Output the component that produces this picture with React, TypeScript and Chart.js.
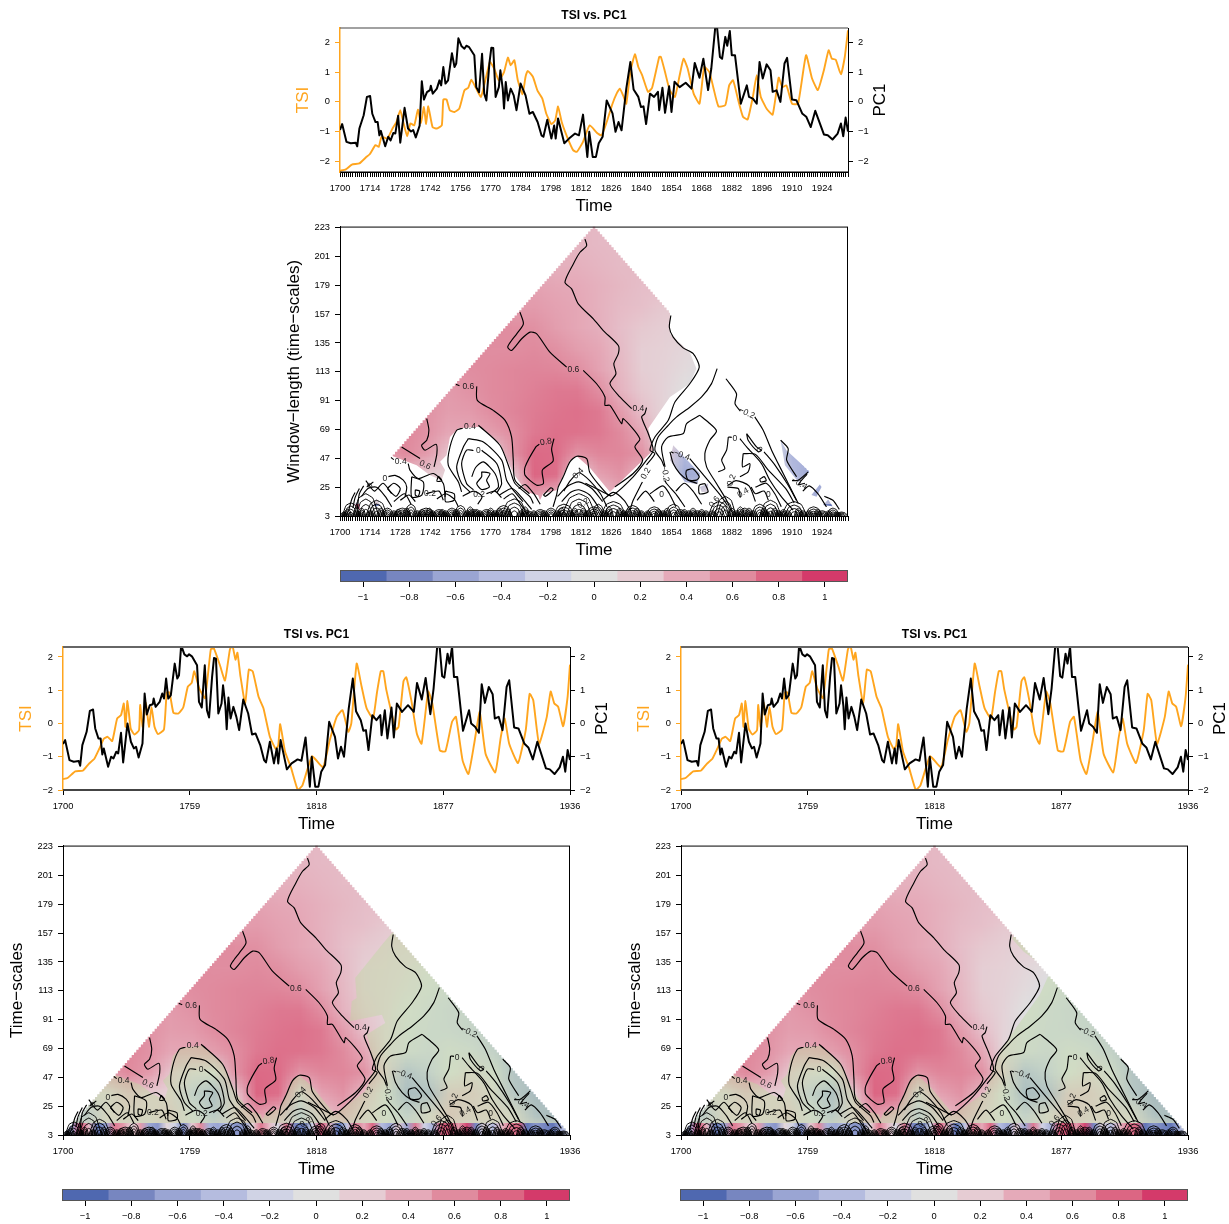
import React, { useEffect, useRef } from "react";
import { Chart, registerables } from "chart.js";

Chart.register(...registerables);
Chart.defaults.font.family = "'Liberation Sans', Arial, sans-serif";

const N = null;

// ---------- time series (year, value pairs) ----------
const PC1_TOP = [1700,-.95,1701,-.75,1703,-1.35,1705,-1.4,1707.3,-1.38,1708,-1.5,1709,-.9,1711,-.45,1712.5,.17,1714,.2,1715,-.4,1716.5,-.68,1717.5,-.68,1718.3,-1.13,1719,-.98,1721,-1.5,1722.4,-1.18,1723.5,-1.3,1724.8,-1.05,1725.7,-1.07,1727,-.47,1728,-1.38,1730,-.2,1731.6,-.9,1733,-1,1734,-.95,1735.2,-1.2,1737,-.8,1738,.7,1739,.08,1740.4,.33,1741.8,.4,1742.2,.55,1743.1,.28,1745,.45,1746.2,.73,1747,.56,1748,1.18,1749,.62,1750.2,.73,1752,1.65,1753.2,1.18,1754,1.3,1755,2.15,1756.5,1.88,1757.8,1.8,1758.7,1.9,1760,1.85,1762.4,1.58,1763.3,.5,1764.6,.33,1766,1.63,1767,.28,1768,.05,1769.4,1.3,1770.3,1.83,1771.2,1.82,1772.3,.17,1773.8,.5,1774.5,1.07,1775.6,.45,1776.2,-.22,1777,.67,1778,.05,1779.3,.45,1780.7,.22,1782,-.28,1783.9,.62,1786.2,.22,1788,-.4,1789.6,-.34,1791.8,-.68,1793.6,-1.13,1794.5,-1.18,1796.3,-.6,1798.2,-1.24,1799.5,-.8,1800.2,-1.24,1801.3,-.56,1804.2,-1.4,1806.4,-1.24,1809.2,-1.07,1811,-1.13,1812.9,-.43,1814.9,-1.86,1815.8,-1.01,1817.4,-1.86,1818.9,-1.86,1820.2,-1.4,1822,-1.18,1823.9,.05,1826.6,-.39,1828,-1.01,1829.4,-.68,1830.8,-.96,1833,.45,1834.9,1.35,1836.4,.42,1838.6,.17,1839.8,-.17,1841,-.15,1842.2,-.75,1844,.28,1845.9,.17,1847.7,.34,1848.3,-.28,1849.8,.48,1851,-.37,1852.9,.53,1854,-.34,1855.4,.68,1857.8,.5,1860.6,.65,1863.3,.45,1864.8,1.32,1867,.82,1868.8,1.46,1871,.4,1872.5,1.13,1874.3,2.5,1875.2,2.5,1876.5,1.52,1877.5,1.46,1879,2.2,1879.9,1.9,1881.1,2.4,1882,1.58,1883.5,1.58,1886.2,-.06,1889,.56,1890,.17,1891.8,.11,1893.6,-.06,1894.9,1.35,1896.4,.79,1898.2,1.27,1900,1.07,1901,.34,1902.8,.39,1904.6,0,1906.5,1.3,1907.7,1.49,1910,.08,1912,.06,1914.7,-.39,1916.6,-.5,1918.7,-.85,1920.8,-.3,1924.8,-1.1,1926.6,-1.13,1928.8,-1.27,1931.2,-1.07,1932.7,-.73,1933.8,-1.16,1934.9,-.53,1936,-1];
const TSI_TOP = [1700,-2.33,1702.7,-2.28,1705.5,-2.12,1709,-2.08,1712,-1.88,1713.8,-1.77,1716.5,-1.46,1718,-1.52,1719.3,-1.18,1722,-1.24,1724.4,-.9,1726.2,-.68,1728,-.28,1729.4,-.68,1731.2,-1.16,1732.7,-.73,1734.5,-.79,1736.2,-.26,1737.6,-.71,1739,-.17,1740,-.75,1741,-.15,1743,-.85,1745,-.9,1747.3,-.79,1748,.08,1749.5,.08,1751,-.28,1753.2,-.34,1755.4,-.23,1757.8,.39,1759.6,.48,1761,.75,1763.3,.45,1765.5,.17,1767.9,.85,1769.7,1.35,1771.6,1.13,1773.8,.73,1776.2,1.01,1778,1.5,1779.3,1.24,1781,1.41,1782.6,.73,1784.8,.26,1786.2,.85,1787.2,1.05,1789.6,.85,1791.8,.37,1794,.11,1795.8,-.39,1798.2,-.75,1800,-.62,1801.3,-.15,1803,-.68,1805.5,-1.18,1808.3,-1.63,1810,-1.69,1812.9,-1.35,1816,-.79,1819.3,-1.04,1821.5,-1.13,1823.9,-.68,1826.6,-.06,1828.5,.28,1830,.45,1831.8,.17,1833,-.06,1834.9,1.01,1837,1.61,1838.6,1.18,1840.4,.9,1843.1,.34,1845,.48,1848.3,1.52,1849.1,1.52,1851,1.01,1853.2,.39,1855.6,.17,1857.8,.9,1859.6,1.46,1861.5,1.13,1864.3,.28,1867,-.06,1869.2,1.18,1871.6,1.01,1873.4,.5,1875.8,-.15,1879,-.11,1880.8,.56,1882.6,.73,1885,.06,1887.2,-.5,1889.4,-.59,1891.8,.17,1893.6,.9,1895.5,.17,1898.2,-.23,1901,-.43,1903.8,.82,1905.5,.5,1907.4,.56,1910,-.06,1912.8,-.06,1916.5,1.58,1919.3,.79,1922,.4,1924.8,1.07,1927,1.75,1928.5,1.46,1930.3,1.43,1932.7,.93,1934.5,1.52,1936,2.42];
const PC1_LOW = [1700,-.62,1701,-.5,1703,-1.1,1705,-1.15,1707.3,-1.13,1708,-1.27,1709,-.65,1711,-.25,1712.5,.38,1714,.42,1715,-.15,1716.5,-.45,1717.5,-.45,1718.3,-.93,1719,-.75,1721,-1.3,1722.4,-1,1723.5,-1.05,1724.8,-.85,1725.7,-.9,1727,-.28,1728,-1.17,1730,0,1731.6,-.55,1733,-.75,1734,-.7,1735.2,-1.02,1737,-.6,1738,.9,1739,.27,1740.4,.55,1741.8,.58,1742.2,.75,1743.1,.5,1745,.65,1746.2,.9,1747,.75,1748,1.35,1749,.75,1750.2,.85,1752,1.8,1753.2,1.35,1754,1.45,1755,2.35,1756.5,2.08,1757.8,2.02,1758.7,2.08,1760,2.02,1762.4,1.75,1763.3,.65,1764.6,.48,1766,1.75,1767,.4,1768,.18,1769.4,1.4,1770.3,1.97,1771.2,1.95,1772.3,.3,1773.8,.6,1774.5,1.15,1775.6,.52,1776.2,-.17,1777,.78,1778,.15,1779.3,.5,1780.7,.2,1782,-.2,1783.9,.72,1786.2,.3,1788,-.33,1789.6,-.3,1791.8,-.65,1793.6,-1.1,1794.5,-1.17,1796.3,-.55,1798.2,-1.2,1799.5,-.75,1800.2,-1.2,1801.3,-.5,1804.2,-1.38,1806.4,-1.2,1809.2,-1.08,1811,-1.12,1812.9,-.42,1814.9,-1.9,1815.8,-1,1817.4,-1.9,1818.9,-1.9,1820.2,-1.45,1822,-1.25,1823.9,.05,1826.6,-.4,1828,-1.05,1829.4,-.7,1830.8,-1,1833,.45,1834.9,1.35,1836.4,.37,1838.6,.1,1839.8,-.22,1841,-.2,1842.2,-.8,1844,.25,1845.9,.1,1847.7,.25,1848.3,-.35,1849.8,.4,1851,-.45,1852.9,.48,1854,-.42,1855.4,.6,1857.8,.35,1860.6,.55,1863.3,.35,1864.8,1.22,1867,.72,1868.8,1.37,1871,.28,1872.5,1.05,1874.3,2.4,1875.2,2.4,1876.5,1.42,1877.5,1.38,1879,2.1,1879.9,1.8,1881.1,2.3,1882,1.4,1883.5,1.4,1886.2,-.22,1889,.4,1890,0,1891.8,-.1,1893.6,-.28,1894.9,1.18,1896.4,.62,1898.2,1.1,1900,.88,1901,.15,1902.8,.2,1904.6,-.2,1906.5,1.1,1907.7,1.3,1910,-.12,1912,-.15,1914.7,-.6,1916.6,-.72,1918.7,-1.08,1920.8,-.55,1924.8,-1.35,1926.6,-1.38,1928.8,-1.52,1931.2,-1.32,1932.7,-1,1933.8,-1.45,1934.9,-.8,1936,-1.1];
const TSI_LOW = [1700,-1.67,1702.1,-1.64,1705.7,-1.44,1709.2,-1.42,1711.9,-1.22,1714.6,-1.06,1716.9,-.76,1719,-.46,1720.8,-.4,1722.9,-.53,1725.2,.15,1727,.25,1728.3,.6,1729.1,-.1,1730,.68,1731.5,-.15,1733.2,-.33,1735.4,-.2,1735.9,.56,1737.1,-.1,1738.6,.63,1740,-.1,1741.2,.5,1742.6,-.1,1744.2,-.32,1747,-.18,1748.3,.93,1749.6,.93,1751.4,.32,1753.7,.3,1756,.49,1758.1,1.11,1759.9,1.22,1761.1,1.57,1763.4,1.06,1766.1,.76,1768.8,2.23,1770.2,2.26,1773.2,1.72,1775.4,1.29,1777.7,2.23,1778.9,2.33,1780.3,1.92,1781.2,2.13,1782.6,1.42,1784.8,.61,1786.5,1.62,1788.3,1.57,1791,.81,1793.3,.46,1796.3,-.4,1799,-.76,1800.2,-.66,1801.1,-.02,1803.4,-.86,1806.1,-1.32,1809.3,-2,1811.4,-1.87,1815.9,-.99,1819.4,-1.22,1821.2,-1.32,1824.2,-.5,1827.4,.2,1830.1,.4,1832.8,-.25,1834.2,0,1836.7,1.8,1839,1.11,1841.3,.46,1844.3,.15,1846.1,.91,1847.9,1.57,1849.1,1.57,1850.5,1.01,1855,-.18,1856.2,-.1,1858.5,1.27,1859.8,1.39,1862.1,.71,1864.7,-.3,1866.9,-.61,1870,.96,1871.9,.61,1875.4,-.81,1878,-.84,1881.1,.05,1882.9,.2,1886,-1.11,1888.7,-1.52,1891.4,-.61,1894,.35,1896.7,-.91,1901.2,-1.47,1903.8,-.4,1905.6,.15,1907.7,-.61,1911.8,-1.19,1915.4,-.2,1917.2,.89,1918.9,.7,1921.6,-.61,1925.2,.2,1927,.96,1928.7,.6,1930.5,.5,1932.8,-.08,1934.9,.81,1936,1.77];

const VALUE_TICKS = [-2, -1, 0, 1, 2];
const COARSE_YEARS = [1700, 1759, 1818, 1877, 1936];
const SCALE_TICKS = [3, 25, 47, 69, 91, 113, 135, 157, 179, 201, 223];
const BAR_TICKS = [-1, -0.8, -0.6, -0.4, -0.2, 0, 0.2, 0.4, 0.6, 0.8, 1];
const BAR_EDGES = [-1.1, -0.9, -0.7, -0.5, -0.3, -0.1, 0.1, 0.3, 0.5, 0.7, 0.9, 1.1];
const PALETTE = ["#4f68b0", "#7786c0", "#9aa5d3", "#b5bcdf", "#d0d3e5", "#e0e0e0", "#e6ccd3", "#e5aab9", "#e08b9e", "#dc6683", "#d43a6a"];

// ---------- coherence field ----------
const FIELD_YEARS = [1700,1710,1720,1730,1740,1750,1760,1770,1780,1790,1800,1810,1820,1830,1840,1850,1860,1870,1880,1890,1900,1910,1920,1930,1940];
const FIELD_SCALES = [227,211,195,179,163,147,131,115,99,83,67,51,35,19,3];
const FIELD = [
  [N,N,N,N,N,N,N,N,N,N,N,.33,.31,N,N,N,N,N,N,N,N,N,N,N,N],
  [N,N,N,N,N,N,N,N,N,N,N,.33,.31,.3,N,N,N,N,N,N,N,N,N,N,N],
  [N,N,N,N,N,N,N,N,N,N,.36,.36,.33,.3,.3,N,N,N,N,N,N,N,N,N,N],
  [N,N,N,N,N,N,N,N,N,.45,.42,.4,.36,.32,.28,N,N,N,N,N,N,N,N,N,N],
  [N,N,N,N,N,N,N,N,.48,.5,.45,.42,.36,.3,.27,.22,N,N,N,N,N,N,N,N,N],
  [N,N,N,N,N,N,N,.6,.58,.56,.48,.42,.37,.28,.22,.18,.15,N,N,N,N,N,N,N,N],
  [N,N,N,N,N,N,.6,.58,.58,.6,.56,.48,.42,.3,.18,.15,.1,.03,N,N,N,N,N,N,N],
  [N,N,N,N,N,.58,.58,.6,.62,.63,.62,.58,.45,.32,.18,.14,.06,-.05,-.12,N,N,N,N,N,N],
  [N,N,N,N,.55,.5,.55,.6,.62,.66,.7,.7,.58,.35,.22,.13,0,-.1,-.17,-.22,N,N,N,N,N],
  [N,N,N,.6,.55,.48,.5,.58,.63,.68,.72,.74,.7,.5,.28,.12,-.05,-.12,-.15,-.22,-.3,N,N,N,N],
  [N,N,N,.62,.55,.42,.42,.48,.58,.7,.74,.73,.7,.6,.42,.1,-.08,-.15,-.05,-.1,-.25,-.45,N,N,N],
  [N,N,.5,.6,.5,.25,.1,.02,.55,.78,.76,.55,.62,.62,.55,.2,-.42,-.25,0,.12,-.05,-.45,-.5,N,N],
  [N,.15,.1,.3,.2,.15,-.25,-.5,.2,.8,.75,.1,.45,.55,.3,0,-.55,-.5,.25,.25,.1,-.4,-.6,-.45,N],
  [N,-.35,.15,.2,.15,.25,-.05,-.35,.2,.5,.35,-.3,.25,.4,.2,0,-.25,.1,.3,.2,.2,.1,-.5,-.6,N],
  [.1,.1,.1,.1,.1,.1,.1,.1,.1,.1,.1,.1,.1,.1,.1,.1,.1,.1,.1,.1,.1,.1,.1,.1,.1],
];
const STRIP_YEARS = [1700,1704,1708,1712,1716,1720,1724,1728,1732,1736,1740,1744,1748,1752,1756,1760,1764,1768,1772,1776,1780,1784,1788,1792,1796,1800,1804,1808,1812,1816,1820,1824,1828,1832,1836,1840,1844,1848,1852,1856,1860,1864,1868,1872,1876,1880,1884,1888,1892,1896,1900,1904,1908,1912,1916,1920,1924,1928,1932,1936];
const STRIP = [-.5,-.6,.9,.3,-.9,-.6,.7,.5,.1,.5,-.6,-.7,.1,-.2,-.8,.2,.6,-.5,-.6,-.4,-.7,-.7,.1,.7,.3,-.1,.7,-.8,-.9,-.2,.9,.3,-.95,-.3,.7,.4,.8,-.4,-.6,.2,-.6,.7,-.2,-.5,.8,.9,.5,.95,-.8,.1,-.4,.3,.7,.8,-.9,-.7,-.8,-.9,-.5,-.2];

// regions outlined in (year, scale)
const SIG_TOP = [1690,49,1724,49,1735.6,41.8,1741.8,34.1,1747.2,30.3,1748.8,38,1746.5,44.3,1749.5,49.4,1751.1,63.3,1755,69.7,1765,71,1774.3,58.2,1780.5,35.4,1786.7,21.4,1792.1,18.9,1792.9,15.1,1794.4,20.2,1800.6,22.7,1806.8,45.6,1810,48.6,1816,40,1825.4,21.4,1845.5,53.2,1843.2,69.7,1853.3,93.8,1862.5,103.9,1865.6,115.4,1862.5,128,1853.3,142,1853.3,161,1860,165,1818,230,1690,160];
const SIG_LEFT = [1690,49,1724,49,1735.6,41.8,1741.8,34.1,1747.2,30.3,1748.8,38,1746.5,44.3,1749.5,49.4,1751.1,63.3,1755,69.7,1765,71,1774.3,58.2,1780.5,35.4,1786.7,21.4,1792.1,18.9,1792.9,15.1,1794.4,20.2,1800.6,22.7,1806.8,45.6,1810,48.6,1816,40,1826.6,18.7,1840.6,36.4,1845.3,54.2,1841.4,79.6,1850,88.5,1848.4,94.8,1833.6,89.7,1834.4,105,1836.7,107.5,1836,122.7,1848.4,148,1853,157,1860,165,1818,230,1690,160];
const SIG_RIGHT = [1690,49,1724,49,1735.6,41.8,1741.8,34.1,1747.2,30.3,1748.8,38,1746.5,44.3,1749.5,49.4,1751.1,63.3,1755,69.7,1765,71,1774.3,58.2,1780.5,35.4,1786.7,21.4,1792.1,18.9,1792.9,15.1,1794.4,20.2,1800.6,22.7,1806.8,45.6,1810,48.6,1816,40,1826.8,18.7,1842.3,36.4,1847,62,1854.7,82,1867,110,1872,128,1859.4,143,1854,153,1860,165,1818,230,1690,160];
const PATCHES_TOP = [
  [1854.8,57,1867.2,35.4,1866,27.3,1860.2,29,1853.3,45.6],
  [1867.2,25.2,1871,27.8,1871,21.4,1868,21.4],
  [1904.7,60.8,1907.4,53.2,1918.3,36.7,1912.9,29,1906.7,41.8],
  [1919,19,1923,27.3,1923.7,25.2,1921.4,17.6],
  [1924.5,11.3,1926.8,15.6,1928.8,10.5],
  [1707,12.6,1708.5,13.8,1709.3,8,1707.8,8.8],
  [1715.5,12.6,1717,16.4,1718.6,11.3,1716.3,10],
];

// ---------- contour lines (year, scale) ----------
const CONTOURS = [
  [1813.8,214.3,1814.6,209.3,1811.5,204.2,1808.4,195.3,1804.5,181.3,1807.6,176.3,1810.7,164.8,1817.7,153.4,1822.3,144.5,1829.3,133.1,1829.3,126.8,1827.2,119.2,1828.2,111.5,1825.4,103.9,1830,93.8,1835.5,84.9],
  [1842.4,85.7,1841.6,81.1,1840.1,78.6,1843.2,65.9,1845.5,53.2,1842.4,45.6,1836.2,32.9,1826.9,18.9,1824.6,18.9,1816.1,36,1814.6,46.8,1810,48.6,1806.8,44.3,1803.7,32.9,1801.4,25.2,1800.6,18.9,1799,10],
  [1783.6,158.5,1785.2,149.6,1782.1,142,1779.7,136.9,1777.9,131.9,1779.7,129.3,1784.4,138.2,1788.3,143.3,1791.4,142,1797.5,128,1805.3,116.6],
  [1813,114.1,1819.2,103.9,1823.1,93.8,1823.1,87.4,1825.4,87.4,1830.8,73.5,1831.6,77.3,1839.3,62,1837,55.7,1840.6,45.6,1836.2,35.4,1827.7,25.2],
  [1753.9,103.4,1755.5,102.4],
  [1763.5,101.9,1763.8,91.2,1771.2,83.6,1776.7,76,1779.7,63.3,1780.5,45.6,1781.3,30.3,1788,20],
  [1740.3,77.3,1741.3,68.4,1740.3,60.8,1737.9,57,1739.5,53.2,1744.6,57.7,1745,50.6,1743.7,40.5],
  [1737.2,46.8,1728.6,55.7],
  [1792.6,57.7,1791,55.7,1786,40.5,1786,34,1791.4,26.5,1794.5,27.8,1794,38,1799,45,1798.3,54,1799.4,62],
  [1794.5,19,1798,24.5,1799,23,1795.5,18,1794.5,19],
  [1757,70,1754.2,68.4,1751.1,55.7,1750.3,41.8,1755,29,1756.5,21.4],
  [1764.3,72.2,1774.3,57,1779,38,1781.3,27.8,1788.3,17.6,1789.8,12.6],
  [1759.6,62,1766.6,59.5,1775.1,45.6,1777.4,30.3,1780.5,22.7,1785,14],
  [1759.6,62,1757.3,55.7,1754.2,40.5,1756.5,27.8,1760.4,21.4],
  [1762,53,1758.8,53.2,1756.5,43,1758.8,27.8,1762,23],
  [1765.8,53.2,1772.8,43,1775.1,27.8,1773,21],
  [1761.2,32.9,1763,40,1766.6,44.3,1772,35.4,1773.6,25.2,1770,20],
  [1765.8,36.7,1769.7,35.4,1768.1,30.3,1769.4,25.2,1765.8,23.2,1763.5,27.8,1765.8,32.9,1765.8,36.7],
  [1731.7,43,1732.5,38,1736.4,31.6,1743.4,35.4,1748,27.8,1748.8,17.6],
  [1723.7,47.6,1725,46],
  [1745.7,33.4,1747.3,30,1745,29.5,1745.7,33.4],
  [1712.4,25,1715.5,29],
  [1722.5,33,1725.6,34,1729.4,30.3,1731,25,1730.2,17.6],
  [1733.3,33,1738.7,29,1738,19,1733.3,17.6,1733.3,33],
  [1735,23,1737,22,1736.3,18,1735,19,1735,23],
  [1749,22,1753,20,1753,15,1749,14,1749,22],
  [1853.7,156,1853,147,1854.8,139.5,1859.4,131.3,1864.1,126.8,1866.9,116.6,1862.5,103.9,1855.6,90,1852.5,76,1846.3,63.3,1844,53.2,1846.3,50.6,1842.4,42],
  [1840.5,29,1839.3,25.2,1836.2,15,1834.7,7.5],
  [1875.2,115.4,1872.6,104,1868,93.8,1862.5,86,1856.4,78.6,1852.5,72.2,1847.8,63.3,1846.3,53.2,1849.4,45.6,1850.5,41],
  [1851,30,1851.7,27.8,1856.4,19,1860.2,10],
  [1867.2,79.8,1861,73.5,1859.5,65.9,1852.5,63.3,1849.4,55.7,1851,40.5],
  [1867.2,79.8,1871,74.7,1874.9,67.9,1871.8,60.8,1869.5,50.6,1870.3,40.5,1874.9,27.8,1879.6,15,1881.9,6],
  [1862.5,46.8,1869.5,33,1877.3,17.6,1880,11],
  [1853.3,51.9,1854.8,43,1857.9,35.4,1862,30,1866,28],
  [1853.8,52,1855,51],
  [1860.9,37.9,1863.9,39,1866.9,33,1865.6,30.4,1861.8,30.4,1860.7,35,1860.9,37.9],
  [1869.5,27.8,1871,21.4,1867,20,1866.9,26.5,1869.5,27.8],
  [1880.4,63.3,1882,63],
  [1885.8,62,1888.9,55.7,1895.8,43,1899.7,30.3,1905.1,17.6,1910.5,7.5],
  [1880.4,63.3,1879.6,53.2,1877.3,45.6,1878.8,39.2,1875.7,36.7],
  [1879.3,107.7,1884.2,96.3,1883.5,88.7,1886,83],
  [1892.7,78.6,1896.6,68.4,1900.5,53.2,1905.9,35.4,1912.9,12.6],
  [1897,52,1902,42,1908,27,1912,15],
  [1888.9,65.9,1893.5,55.7,1895.8,53.2,1894.3,52,1889.6,60.8,1888.9,65.9],
  [1887.3,50.6,1887,40.5,1890.4,43,1889.6,36.7,1885.8,33],
  [1887.3,50.6,1893,50,1899,38,1907,24,1911,13],
  [1904.7,60.8,1908.2,54.4,1907.5,45.6,1912.1,33],
  [1917.5,36.7,1912.9,30.3,1910,30],
  [1917,35,1913,27,1916,28],
  [1895,31,1897,33,1898,30,1895.5,29,1895,31],
  [1880,25,1885,24,1886,17],
  [1891,25,1893,20,1897,22,1899,15],
  [1708,8,1709,20,1711,26],
  [1706,9,1707,17,1709,24],
  [1704,7,1705.5,16,1707,21],
  [1722,24,1725,28,1728,24,1726,18,1722,24],
  [1728,15,1732,19,1735,14],
  [1740,20,1746,22,1748,15],
  [1757,18,1762,22,1766,18,1764,12],
  [1768,20,1772,22,1775,17],
  [1783,24,1786,27,1790,20,1793,12],
  [1804,22,1807,30,1811,36,1816,30,1821,20,1824,10],
  [1801,18,1806,26,1811,29,1817,24,1822,14],
  [1803,14,1807,21,1811,23,1816,19,1820,10],
  [1844,20,1850,26,1853,20,1856,10],
  [1856,22,1860,28,1864,22,1868,12],
  [1880,26,1884,30,1890,26,1893,14],
  [1893,25,1898,28,1902,20,1905,10],
  [1838,15,1842,22,1846,14],
  [1915,22,1918,26,1922,20,1926,10],
  [1925,18,1929,15,1932,8],
  [1725,14,1730,20,1733,12],
  [1745,16,1749,20,1753,16,1755,10],
  [1712,30,1716,22,1720,28,1724,20],
  [1710,18,1713,24,1717,25,1721,18,1724,10],
  [1774,19,1780,24,1785,16,1789,8],
  [1776,16,1780,20,1783,14,1786,7],
  [1826,18,1819,24,1814,28],
  [1822,15,1827,21,1832,15,1835,7],
];
const ARCH_YEARS = [1705,1712,1717,1722,1729,1733,1740,1746,1752,1756,1762,1768,1776,1781,1787,1793,1798,1804,1811,1818,1820,1827,1836,1846,1855,1858,1866,1876,1879,1888,1895,1900,1911,1920,1924,1929,1933,1702,1708,1714,1725,1736,1743,1749,1759,1765,1772,1784,1790,1801,1807,1815,1823,1832,1840,1843,1850,1862,1870,1873,1884,1892,1898,1904,1908,1915,1918,1927,1931,1703.5,1710,1719,1727,1731,1738,1741.5,1747.5,1754,1760.5,1763.5,1770,1774,1778,1786,1795,1803,1809,1813,1825,1830,1834,1838,1848,1852,1860,1864,1868,1882,1886,1890,1897,1902,1906,1913,1922];
const ARCH_WIDTHS = [4,6,5,3,4,3,4,3,3,3,3,3,4,6,3,3,3,5,8,4,3,6,4,4,4,3,3,5,5,3,4,5,6,4,3,3,3,2,2,2,2,2,2,2,2,2,2,2,2,2,2,2,2,2,2,2,2,2,2,2,2,2,2,2,2,2,2,2,2,2,2,2,2,2,2,2,2,2,2,2,2,2,2,2,2,2,2,2,2,2,2,2,2,2,2,2,2,2,2,2,2,2,2,2,2];
const ARCH_PEAKS = [13,20,15,9,9,12,9,8,9,11,8,8,11,16,7,8,9,12,20,10,12,14,11,10,12,8,7,14,18,9,12,15,14,10,7,9,6,6,7,7,7,7,7,7,7,7,7,7,7,7,7,7,7,7,7,7,7,7,7,7,7,7,7,7,7,7,7,7,6,8,9,9,8,9,8,9,8,8,10,8,9,9,8,10,7,9,9,9,10,9,8,9,8,9,8,9,8,9,10,9,9,9,8,9,8];
const LABEL_YEARS = [1759.6,1808.4,1760.4,1795.7,1739.5,1728.2,1720.9,1714,1741.8,1764.6,1764.3,1810.7,1813,1838.6,1842.1,1851,1858.7,1849.4,1874,1883.4,1888.9,1881.9,1887.3,1899,1894.6,1913.3];
const LABEL_SCALES = [101.4,114.8,71.4,59.5,41.8,44.3,31.6,26,20,19,53.2,35.4,12.6,84.9,35.4,35.4,49.4,19,13.8,62,81.6,30.3,20.7,19,53.7,27.8];
const LABEL_TEXTS = ["0.6","0.6","0.4","0.8","0.6","0.4","0","0","0.2","0.2","0","0.4","0.2","0.4","0.2","\u22120.2","\u22120.4","0","0.6","0","\u22120.2","0.2","0.4","0","0","\u22120.4"];
const LABEL_ANGLES = [0,0,0,-10,25,0,0,-45,0,0,0,-45,-30,0,-60,80,20,0,-50,0,25,-70,-30,0,60,30];

// ---------- helpers ----------
const pairs = (flat: number[]) => {
  const out = [];
  for (let i = 0; i < flat.length; i += 2) out.push({ x: flat[i], y: flat[i + 1] });
  return out;
};
const rgb = (h: string) => [1, 3, 5].map((i) => parseInt(h.slice(i, i + 2), 16));
const colorFor = (v: number) => {
  const p = Math.max(0, Math.min(10, (v + 1) / 0.2));
  const i = Math.min(9, Math.floor(p));
  const a = rgb(PALETTE[i]), b = rgb(PALETTE[i + 1]), f = p - i;
  return a.map((c, k) => Math.round(c + (b[k] - c) * f));
};
const minus = (v: number) => (v < 0 ? "\u2212" + Math.abs(v) : String(v));
const setTicks = (list: number[]) => (s: any) => { s.ticks = list.map((value) => ({ value })); };

function rasters() {
  const w = FIELD_YEARS.length, h = FIELD_SCALES.length;
  const c = document.createElement("canvas");
  c.width = w; c.height = h;
  const g = c.getContext("2d")!;
  const img = g.createImageData(w, h);
  FIELD.forEach((row, j) => {
    row.forEach((val, i) => {
      let v = val as number | null;
      for (let d = 1; v === null && d < w; d++) {
        const a = row[i - d], b = row[i + d];
        v = a != null ? a : b != null ? b : null;
      }
      const [r, gg, b] = colorFor(v ?? 0);
      const o = (j * w + i) * 4;
      img.data[o] = r; img.data[o + 1] = gg; img.data[o + 2] = b; img.data[o + 3] = 255;
    });
  });
  g.putImageData(img, 0, 0);
  const sc = document.createElement("canvas");
  sc.width = STRIP.length; sc.height = 1;
  const sg = sc.getContext("2d")!;
  STRIP.forEach((v, i) => {
    const [r, gg, b] = colorFor(v);
    sg.fillStyle = `rgb(${r},${gg},${b})`;
    sg.fillRect(i, 0, 1, 1);
  });
  return { field: c, strip: sc };
}

function polyPath(ctx: any, x: any, y: any, flat: number[]) {
  for (let i = 0; i < flat.length; i += 2) {
    const px = x.getPixelForValue(flat[i]), py = y.getPixelForValue(flat[i + 1]);
    if (i === 0) ctx.moveTo(px, py); else ctx.lineTo(px, py);
  }
  ctx.closePath();
}

function stairPath(ctx: any, x: any, y: any) {
  const apexYear = 1818, apexScale = 224, half = 118;
  ctx.beginPath();
  const rows: number[] = [];
  for (let s = apexScale; s >= 3; s -= 2) rows.push(s);
  rows.forEach((s, i) => {
    const hw = half * (apexScale - s) / (apexScale - 3);
    const px = x.getPixelForValue(apexYear - hw - 0.6), py = y.getPixelForValue(s), py2 = y.getPixelForValue(s - 2);
    if (i === 0) ctx.moveTo(px, py); else ctx.lineTo(px, py);
    ctx.lineTo(px, py2);
  });
  rows.slice().reverse().forEach((s) => {
    const hw = half * (apexScale - s) / (apexScale - 3);
    const px = x.getPixelForValue(apexYear + hw + 0.6), py = y.getPixelForValue(s), py2 = y.getPixelForValue(s - 2);
    ctx.lineTo(px, py2);
    ctx.lineTo(px, py);
  });
  ctx.closePath();
}

const fieldPlugin = (mode: string, sig: number[]) => ({
  id: "field",
  beforeDatasetsDraw(chart: any) {
    const { ctx, chartArea: a } = chart;
    const x = chart.scales.x, y = chart.scales.y;
    const { field, strip } = rasters();
    const dt = FIELD_YEARS[1] - FIELD_YEARS[0], ds = FIELD_SCALES[0] - FIELD_SCALES[1];
    ctx.save();
    ctx.beginPath(); ctx.rect(a.left, a.top, a.width, a.height); ctx.clip();
    stairPath(ctx, x, y); ctx.clip();
    if (mode === "mask") {
      ctx.beginPath();
      polyPath(ctx, x, y, sig);
      PATCHES_TOP.forEach((p) => polyPath(ctx, x, y, p));
      ctx.clip();
    }
    ctx.imageSmoothingEnabled = true;
    const fx0 = x.getPixelForValue(FIELD_YEARS[0] - dt / 2), fx1 = x.getPixelForValue(FIELD_YEARS[FIELD_YEARS.length - 1] + dt / 2);
    const fy0 = y.getPixelForValue(FIELD_SCALES[0] + ds / 2), fy1 = y.getPixelForValue(FIELD_SCALES[FIELD_SCALES.length - 1] - ds / 2);
    ctx.drawImage(field, fx0, fy0, fx1 - fx0, fy1 - fy0);
    if (mode === "overlay") {
      ctx.beginPath();
      ctx.rect(a.left, a.top, a.width, a.height);
      polyPath(ctx, x, y, sig);
      ctx.fillStyle = "rgba(188,216,160,0.42)";
      ctx.fill("evenodd");
    }
    const st = STRIP_YEARS[1] - STRIP_YEARS[0];
    const sx0 = x.getPixelForValue(STRIP_YEARS[0] - st / 2), sx1 = x.getPixelForValue(STRIP_YEARS[STRIP_YEARS.length - 1] + st / 2);
    const sy0 = y.getPixelForValue(12), sy1 = y.getPixelForValue(3);
    ctx.drawImage(strip, sx0, sy0, sx1 - sx0, sy1 - sy0);
    ctx.restore();
  },
});

const labelPlugin = {
  id: "labels",
  afterDatasetsDraw(chart: any) {
    const { ctx } = chart;
    const x = chart.scales.x, y = chart.scales.y;
    ctx.save();
    ctx.font = "8.5px 'Liberation Sans'";
    ctx.fillStyle = "#1a1a1a";
    ctx.textAlign = "center";
    ctx.textBaseline = "middle";
    LABEL_TEXTS.forEach((t, i) => {
      ctx.save();
      ctx.translate(x.getPixelForValue(LABEL_YEARS[i]), y.getPixelForValue(LABEL_SCALES[i]));
      ctx.rotate((LABEL_ANGLES[i] * Math.PI) / 180);
      ctx.fillText(t, 0, 0);
      ctx.restore();
    });
    ctx.restore();
  },
};

const tsFrame = (topW: number, topC: string, botW: number, botC: string) => ({
  id: "tsFrame",
  afterDraw(chart: any) {
    const { ctx, chartArea: a } = chart;
    ctx.save();
    ctx.strokeStyle = topC; ctx.lineWidth = topW;
    ctx.beginPath(); ctx.moveTo(a.left, a.top); ctx.lineTo(a.right, a.top); ctx.stroke();
    ctx.strokeStyle = botC; ctx.lineWidth = botW;
    ctx.beginPath(); ctx.moveTo(a.left, a.bottom); ctx.lineTo(a.right, a.bottom); ctx.stroke();
    ctx.translate(a.right + 32, (a.top + a.bottom) / 2);
    ctx.rotate(-Math.PI / 2);
    ctx.font = "17px 'Liberation Sans'";
    ctx.fillStyle = "#000";
    ctx.textAlign = "center";
    ctx.textBaseline = "middle";
    ctx.fillText("PC1", 0, 0);
    ctx.restore();
  },
});

const boxPlugin = (color: string) => ({
  id: "box",
  afterDraw(chart: any) {
    const { ctx, chartArea: a } = chart;
    ctx.save();
    ctx.strokeStyle = color; ctx.lineWidth = 1;
    ctx.strokeRect(a.left + 0.5, a.top + 0.5, a.width - 1, a.height);
    ctx.restore();
  },
});

const M_LEFT = 60, M_RIGHT = 40, M_BOTTOM = 46;
const TICK_FONT = { size: 9.3 };
const TITLE_FONT = { size: 17 };
const fitW = (w: number) => (s: any) => { s.width = w; };
const fitH = (h: number) => (s: any) => { s.height = h; };
const YEARS_ALL: number[] = [];
for (let y = 1700; y <= 1936; y++) YEARS_ALL.push(y);

function xAxis(rug: boolean) {
  return {
    type: "linear", min: 1700, max: 1936, position: "bottom",
    afterFit: fitH(M_BOTTOM),
    afterBuildTicks: setTicks(rug ? YEARS_ALL : COARSE_YEARS),
    grid: { drawOnChartArea: false, drawTicks: true, tickLength: 5, tickColor: "#000", tickWidth: 1 },
    border: { display: true, color: "#000", width: 1 },
    ticks: {
      autoSkip: false, maxRotation: 0, color: "#000", font: TICK_FONT, padding: 6,
      callback: (v: number) => (rug ? ((v - 1700) % 14 === 0 && v < 1930 ? String(v) : "") : String(v)),
    },
    title: { display: true, text: "Time", color: "#000", font: TITLE_FONT, padding: { top: 0, bottom: 1.5 } },
  };
}

function tsConfig(pc: number[], tsi: number[], rug: boolean, yMin: number, yMax: number, frame: any) {
  return {
    type: "scatter",
    data: {
      datasets: [
        { label: "TSI", data: pairs(tsi), showLine: true, pointRadius: 0, borderColor: "#ffa51e", borderWidth: 1.9, yAxisID: "y", borderJoinStyle: "round", tension: 0.15, order: 2 },
        { label: "PC1", data: pairs(pc), showLine: true, pointRadius: 0, borderColor: "#000", borderWidth: 2, yAxisID: "y2", borderJoinStyle: "round", order: 1 },
      ],
    },
    options: {
      animation: false, responsive: false, devicePixelRatio: 1,
      layout: { padding: 0 },
      plugins: {
        legend: { display: false }, tooltip: { enabled: false },
        title: { display: true, text: "TSI vs. PC1", fullSize: false, color: "#000", font: { size: 12, weight: "bold" }, padding: { top: 8, bottom: 5.6 } },
      },
      scales: {
        x: xAxis(rug),
        y: {
          type: "linear", position: "left", min: yMin, max: yMax, afterFit: fitW(M_LEFT),
          afterBuildTicks: setTicks(VALUE_TICKS),
          grid: { drawOnChartArea: false, tickLength: 5, tickColor: "#ffa51e" },
          border: { display: true, color: "#ffa51e", width: 1.5 },
          ticks: { color: "#000", font: TICK_FONT, padding: 5, callback: minus },
          title: { display: true, text: "TSI", color: "#ffa51e", font: TITLE_FONT, padding: { top: 13, bottom: 0 } },
        },
        y2: {
          type: "linear", position: "right", min: yMin, max: yMax, afterFit: fitW(M_RIGHT),
          afterBuildTicks: setTicks(VALUE_TICKS),
          grid: { drawOnChartArea: false, tickLength: 5, tickColor: "#000" },
          border: { display: true, color: "#000", width: 1 },
          ticks: { color: "#000", font: TICK_FONT, padding: 5, callback: minus },
        },
      },
    },
    plugins: [frame],
  };
}

function heatConfig(mode: string, sig: number[], rug: boolean, yTitle: string) {
  const contourSets = CONTOURS.map((c) => ({
    data: pairs(c), showLine: true, pointRadius: 0, borderColor: "#000", borderWidth: 1.15, tension: 0.25,
  }));
  const archSets: any[] = [];
  ARCH_YEARS.forEach((t, i) => {
    const w = ARCH_WIDTHS[i], h = ARCH_PEAKS[i] - 3;
    [1, 0.76, 0.52, 0.3].forEach((f) => {
      archSets.push({
        data: [
          { x: t - w * f, y: 3 },
          { x: t - w * f * 0.55, y: 3 + h * f * 0.8 },
          { x: t, y: 3 + h * f },
          { x: t + w * f * 0.55, y: 3 + h * f * 0.8 },
          { x: t + w * f, y: 3 },
        ],
        showLine: true, pointRadius: 0, borderColor: "#000", borderWidth: 1, tension: 0.1,
      });
    });
  });
  return {
    type: "scatter",
    data: { datasets: [...contourSets, ...archSets] },
    options: {
      animation: false, responsive: false, devicePixelRatio: 1,
      layout: { padding: { top: 10 } },
      plugins: { legend: { display: false }, tooltip: { enabled: false } },
      scales: {
        x: xAxis(rug),
        y: {
          type: "linear", position: "left", min: 3, max: 223.8, afterFit: fitW(M_LEFT),
          afterBuildTicks: setTicks(SCALE_TICKS),
          grid: { drawOnChartArea: false, tickLength: 5, tickColor: "#000" },
          border: { display: true, color: "#000", width: 1 },
          ticks: { color: "#000", font: TICK_FONT, padding: 5 },
          title: { display: true, text: yTitle, color: "#000", font: TITLE_FONT, padding: { top: 4, bottom: 0 } },
        },
        yr: { display: false, position: "right", afterFit: fitW(M_RIGHT) },
      },
    },
    plugins: [fieldPlugin(mode, sig), labelPlugin, boxPlugin("#000")],
  };
}

function barConfig() {
  return {
    type: "bar",
    data: {
      labels: ["r"],
      datasets: PALETTE.map((c, i) => ({
        data: [[BAR_EDGES[i], BAR_EDGES[i + 1]]],
        backgroundColor: c, borderWidth: 0, grouped: false, barPercentage: 1, categoryPercentage: 1,
      })),
    },
    options: {
      indexAxis: "y",
      animation: false, responsive: false, devicePixelRatio: 1,
      layout: { padding: { left: 30, right: 30, top: 5 } },
      plugins: { legend: { display: false }, tooltip: { enabled: false } },
      scales: {
        x: {
          type: "linear", min: -1.1, max: 1.1, afterFit: fitH(30),
          afterBuildTicks: setTicks(BAR_TICKS),
          grid: { drawOnChartArea: false, tickLength: 6, tickColor: "#000" },
          border: { display: false },
          ticks: { color: "#000", font: TICK_FONT, padding: 5, autoSkip: false, maxRotation: 0, callback: minus },
        },
        y: { display: false },
      },
    },
    plugins: [boxPlugin("#555")],
  };
}

function ChartCanvas({ make, left, top, width, height }: any) {
  const ref = useRef<HTMLCanvasElement>(null);
  useEffect(() => {
    const chart = new Chart(ref.current as any, make());
    return () => chart.destroy();
  }, []);
  return <canvas ref={ref} width={width} height={height} style={{ position: "absolute", left, top, width, height }} />;
}

export default function App() {
  const ts = (L: number, T: number, W: number, H: number, make: any) => (
    <ChartCanvas make={make} left={L - M_LEFT} top={T - 28} width={M_LEFT + W + M_RIGHT} height={28 + H + M_BOTTOM} />
  );
  const heat = (L: number, T: number, W: number, make: any) => (
    <ChartCanvas make={make} left={L - M_LEFT} top={T - 10} width={M_LEFT + W + M_RIGHT} height={10 + 290 + M_BOTTOM} />
  );
  const bar = (L: number, T: number) => (
    <ChartCanvas make={barConfig} left={L - 30} top={T - 5} width={508 + 60} height={5 + 11 + 30} />
  );
  return (
    <div style={{ position: "absolute", left: 0, top: 0, width: 1229, height: 1224, overflow: "hidden", background: "#fff" }}>
      {ts(340, 28, 508, 144, () => tsConfig(PC1_TOP, TSI_TOP, true, -2.37, 2.5, tsFrame(1.2, "#444", 1, "#000")))}
      {heat(340, 226, 508, () => heatConfig("mask", SIG_TOP, true, "Window\u2212length (time\u2212scales)"))}
      {bar(340, 570)}
      {ts(63, 647, 507, 143, () => tsConfig(PC1_LOW, TSI_LOW, false, -2, 2.3, tsFrame(2.2, "#666", 2.2, "#444")))}
      {heat(63, 845, 507, () => heatConfig("overlay", SIG_LEFT, false, "Time\u2212scales"))}
      {bar(62, 1189)}
      {ts(681, 647, 507, 143, () => tsConfig(PC1_LOW, TSI_LOW, false, -2, 2.3, tsFrame(2.2, "#666", 2.2, "#444")))}
      {heat(681, 845, 507, () => heatConfig("overlay", SIG_RIGHT, false, "Time\u2212scales"))}
      {bar(680, 1189)}
    </div>
  );
}
